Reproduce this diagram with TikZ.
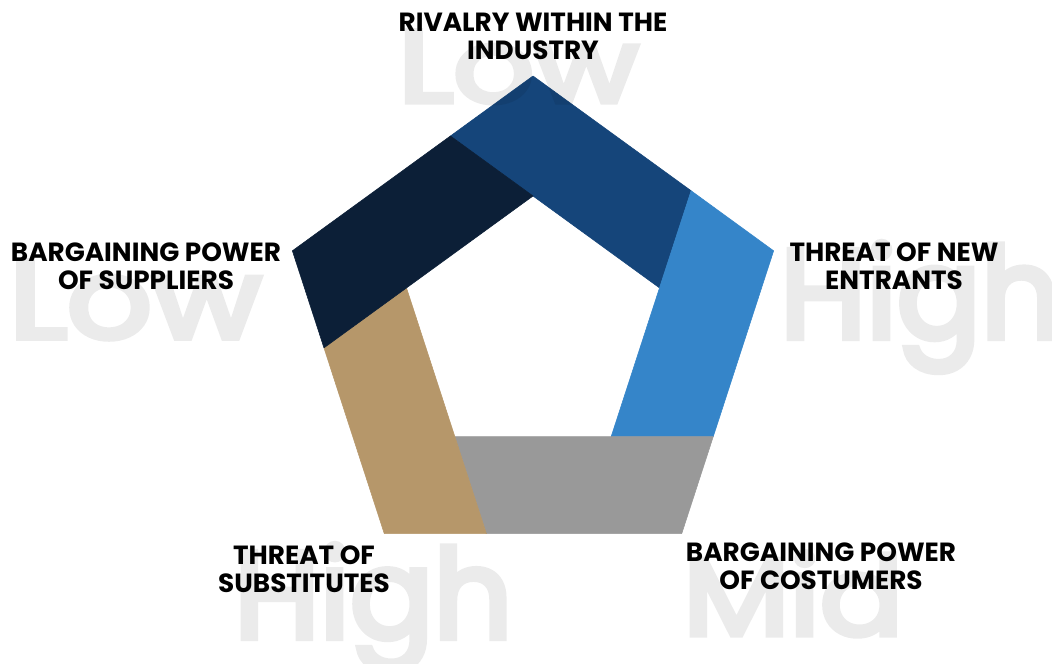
\documentclass[tikz,border=0pt]{standalone}
\usepackage{fontspec}
\usepackage{graphicx}
\setmainfont{Poppins}
\newfontfamily\levelfont{Poppins}[FakeBold=5]
\definecolor{rivalry}{HTML}{15457A}
\definecolor{entrants}{HTML}{3585C9}
\definecolor{costumers}{HTML}{999999}
\definecolor{substitutes}{HTML}{B6976A}
\definecolor{suppliers}{HTML}{0C1F37}
% a faint level word stretched to a given width and height
\newcommand{\levelword}[3]{\resizebox{#1}{#2}{\fontsize{80}{80}\selectfont\levelfont #3}}
\begin{document}
\begin{tikzpicture}[x=0.025cm,y=0.025cm,
  band/.style={fill=#1,draw=#1,line width=0.4pt,line join=round},
  label/.style={font=\fontsize{18.7}{20.3}\selectfont\bfseries,align=center,anchor=base,inner sep=0pt},
  bgword/.style={text=black,anchor=base west,inner sep=0pt}]
\useasboundingbox (0,0) rectangle (1052,664);

% outer (V) and inner (W) pentagon corners, clockwise from the top
\foreach \i/\a in {1/90,2/18,3/-54,4/-126,5/162}{
  \coordinate (V\i) at ([shift={(533,335)}]\a:253);
  \coordinate (W\i) at ([shift={(533,335)}]\a:133);
}
% each inner edge, extended backwards, meets the outer outline
\coordinate (P1) at (intersection of W2--W1 and V5--V1);
\coordinate (P2) at (intersection of W3--W2 and V1--V2);
\coordinate (P3) at (intersection of W4--W3 and V2--V3);
\coordinate (P4) at (intersection of W5--W4 and V3--V4);
\coordinate (P5) at (intersection of W1--W5 and V4--V5);

% the five bands
\path[band=rivalry]     (P1) -- (V1) -- (P2) -- (W2) -- (W1) -- cycle;
\path[band=entrants]    (P2) -- (V2) -- (P3) -- (W3) -- (W2) -- cycle;
\path[band=costumers]   (P3) -- (V3) -- (P4) -- (W4) -- (W3) -- cycle;
\path[band=substitutes] (P4) -- (V4) -- (P5) -- (W5) -- (W4) -- cycle;
\path[band=suppliers]   (P5) -- (V5) -- (P1) -- (W1) -- (W5) -- cycle;

% large faint level words, laid over everything as one translucent layer
\begin{scope}[transparency group,opacity=0.08]
\node[bgword] (lvtop)   at (398,562) {\levelword{6.0cm}{1.78cm}{Low}};
\node[bgword] (lvleft)  at (9,326)   {\levelword{6.3cm}{1.93cm}{Low}};
\node[bgword] (lvright) at (780,326) {\levelword{7.0cm}{2.4cm}{High}};
\node[bgword] (lvbl)    at (234,26)  {\levelword{6.95cm}{2.35cm}{High}};
\node[bgword] (lvbr)    at (683,29)  {\levelword{5.5cm}{2.08cm}{Mid}};
\end{scope}

% force labels
\node[label] (rivalry)     at (533,604) {RIVALRY WITHIN THE\\INDUSTRY};
\node[label] (suppliers)   at (146,374) {BARGAINING POWER\\OF SUPPLIERS};
\node[label] (entrants)    at (894,374) {THREAT OF NEW\\ENTRANTS};
\node[label] (substitutes) at (304,71)  {THREAT OF\\SUBSTITUTES};
\node[label] (costumers)   at (821,74)  {BARGAINING POWER\\OF COSTUMERS};
\end{tikzpicture}
\end{document}
